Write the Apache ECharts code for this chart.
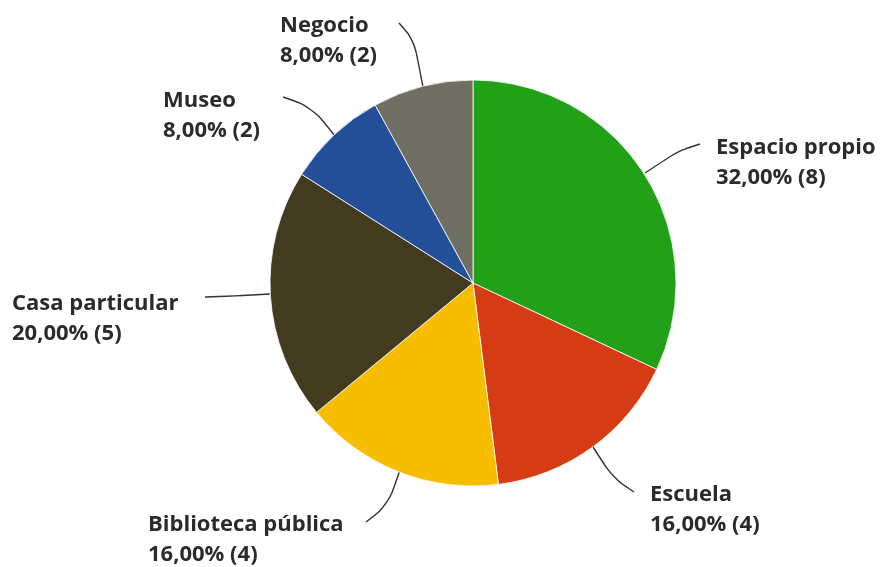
<!DOCTYPE html>
<html><head><meta charset="utf-8">
<script src="https://cdn.jsdelivr.net/npm/echarts@6/dist/echarts.min.js"></script>
<style>html,body{margin:0;padding:0;background:#fff}#c{width:886px;height:567px}</style>
</head><body><div id="c"></div>
<script>
const categories = ['Espacio propio','Escuela','Biblioteca pública','Casa particular','Museo','Negocio'];
const counts = [8,4,4,5,2,2];
const colors = ['#22a018','#d63c13','#f7bd00','#433b1f','#224f98','#6f6e63'];

const labelTopLeft = [[716,133],[650,480],[148,510],[12,289],[163,86],[280,11]];
const linePts = [
  [[645,173],[680,150],[700,144]],
  [[593,447],[613,478],[634,492]],
  [[400,470],[388,505],[366,522]],
  [[270,294],[235,296],[205,297]],
  [[335,136],[312,107],[283,97]],
  [[423,87],[414,40],[399,23]]
];

const chart = echarts.init(document.getElementById('c'), null, {renderer:'canvas'});
chart.setOption({
  animation:false,
  series:[{
    type:'pie',
    center:[473,283],
    radius:[0,203],
    startAngle:90,
    clockwise:true,
    data:categories.map((n,i)=>({name:n,value:counts[i],itemStyle:{color:colors[i]}})),
    itemStyle:{borderColor:'#ffffff',borderWidth:0.8},
    label:{
      show:true,position:'outside',
      fontFamily:'Open Sans',fontWeight:700,fontSize:22,lineHeight:30,color:'#2b2b2b',
      formatter:p=>p.name+'\n'+p.percent.toFixed(2).replace('.',',')+'% ('+p.value+')'
    },
    labelLine:{show:true,smooth:0.35,lineStyle:{color:'#333',width:1.4}},
    emphasis:{disabled:true}
  }]
});
chart.setOption({series:[{labelLayout:function(p){
  const i=p.dataIndex;
  return {x:labelTopLeft[i][0],y:labelTopLeft[i][1],align:'left',verticalAlign:'top',labelLinePoints:linePts[i]};
}}]});
</script></body></html>
